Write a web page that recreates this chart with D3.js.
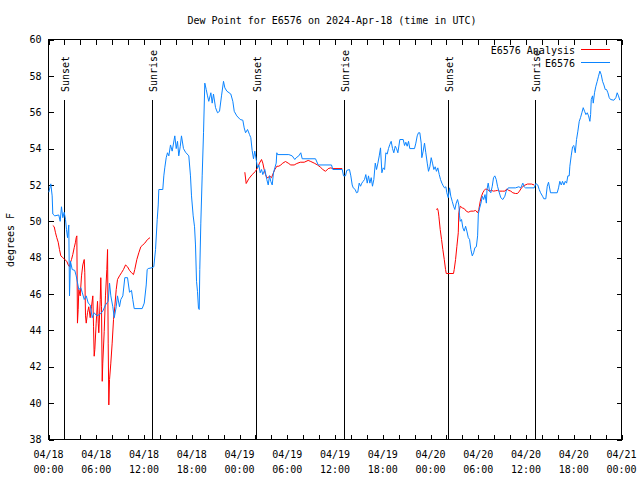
<!DOCTYPE html>
<html>
<head>
<meta charset="utf-8">
<script src="https://cdnjs.cloudflare.com/ajax/libs/d3/7.8.5/d3.min.js"></script>
<style>
  body { margin: 0; background: #fff; }
  svg { display: block; }
  text { font-family: "DejaVu Sans Mono", "Liberation Mono", monospace; font-size: 10px; fill: #000; }
</style>
</head>
<body>
<svg></svg>
<script>
// hours after 2024-04-18 00:00 UTC
const stationHours = [0.04,0.29,0.46,0.54,0.79,1.29,1.47,1.63,1.80,1.97,2.14,2.26,2.39,2.55,2.64,2.76,2.98,3.30,3.48,3.81,4.06,4.23,4.49,4.74,4.99,5.24,5.49,5.74,6.07,6.50,6.82,7.16,7.50,7.67,7.83,8.08,8.26,8.51,8.67,8.92,9.09,9.34,9.59,9.93,10.18,10.43,10.59,10.77,11.77,12.03,12.28,12.40,12.53,13.03,13.23,13.45,13.66,13.79,13.86,14.36,14.49,14.61,14.79,14.95,15.12,15.33,15.54,15.87,16.05,16.21,16.37,16.55,16.71,16.96,17.22,17.63,17.84,17.97,18.18,18.35,18.47,18.60,18.72,18.85,18.94,19.01,19.14,19.31,19.48,19.64,19.82,19.98,20.14,20.40,20.57,20.73,20.99,21.24,21.49,21.74,21.99,22.16,22.41,22.91,23.16,23.34,23.66,24.09,24.42,24.59,24.76,25.01,25.26,25.42,25.59,25.76,25.92,26.10,26.26,26.43,26.60,26.77,26.93,27.18,27.43,27.61,27.77,27.93,28.11,28.27,28.44,28.61,28.69,28.78,30.20,30.62,30.95,31.13,31.45,31.70,31.88,33.55,33.89,35.56,35.73,36.91,37.07,37.32,37.48,37.82,37.99,38.16,38.29,38.54,38.70,38.86,39.04,39.21,39.37,39.54,39.71,39.87,40.05,40.21,40.38,40.55,40.71,40.88,41.06,41.22,41.39,41.56,41.72,41.89,42.06,42.23,42.39,42.56,42.72,42.89,43.06,43.23,43.39,43.57,43.73,43.90,44.15,44.57,44.74,44.90,45.07,45.24,45.40,45.99,46.16,46.33,46.49,46.66,46.83,46.91,47.08,47.25,47.41,47.59,47.75,47.92,48.09,48.25,48.42,48.59,48.75,48.92,49.10,49.26,49.43,49.60,49.76,49.93,50.05,50.23,50.39,50.55,50.73,50.90,51.06,51.23,51.40,51.56,51.65,51.74,51.90,52.07,52.24,52.41,52.57,52.75,52.91,53.07,53.25,53.42,53.58,53.76,53.92,54.01,54.18,54.34,54.52,54.68,54.85,55.02,55.10,55.25,55.42,55.58,55.76,55.92,56.08,56.26,56.42,56.59,56.83,57.09,57.34,57.51,57.77,58.68,59.10,59.35,59.60,59.77,59.94,61.03,61.23,61.48,61.66,61.83,62.08,62.24,62.49,62.67,62.83,63.08,63.92,64.09,64.25,64.43,64.59,64.76,64.93,65.10,65.26,65.43,65.51,65.68,65.85,66.01,66.19,66.35,66.52,66.69,66.85,67.02,67.19,67.36,67.53,67.70,67.86,68.03,68.12,68.20,68.36,68.45,68.61,68.78,68.95,69.11,69.28,69.45,69.62,69.79,69.96,70.12,70.29,70.46,70.63,71.04,71.29,71.46,71.62,71.79];
const stationDew = [51.6,52.06,51.4,50.4,50.3,50.35,50.0,50.8,50.2,50.5,50.1,49.55,49.1,49.8,45.9,47.8,47.35,47.3,47.0,46.25,46.35,46.1,45.7,45.9,45.5,45.4,44.7,44.97,44.8,44.9,45.06,45.4,45.6,46.6,45.9,45.3,44.7,45.3,45.9,45.3,45.7,45.9,46.9,46.9,46.1,46.2,45.7,45.2,45.2,45.5,46.5,47.35,47.4,47.45,47.5,48.45,50.1,50.9,51.75,51.75,52.5,52.94,53.5,53.77,53.6,54.2,53.86,54.7,54.0,54.4,53.6,54.1,54.7,54.0,53.8,53.6,52.5,51.4,50.3,49.7,48.7,46.7,46.15,45.2,45.15,47.35,49.9,52.5,54.87,57.6,57.25,56.9,56.6,57.07,56.5,57.0,56.25,55.97,56.05,56.9,57.7,57.34,57.16,57.0,56.6,56.05,55.8,55.6,55.56,55.14,54.87,55.05,54.77,54.6,53.9,53.44,53.86,53.4,52.94,53.1,52.67,52.85,52.57,52.85,52.3,52.0,52.5,52.2,52.0,52.67,52.94,53.2,53.77,53.67,53.67,53.6,53.4,53.5,53.6,53.77,53.44,53.44,53.1,53.1,52.85,52.85,52.5,52.5,52.8,52.85,52.5,52.0,51.84,51.75,51.57,51.6,52.1,51.93,52.1,52.2,52.3,52.57,52.1,52.5,52.1,52.4,51.93,52.3,53.2,52.85,53.2,53.6,54.04,52.67,52.94,52.85,53.77,53.7,54.0,54.23,54.4,54.0,53.77,54.13,54.0,53.77,54.5,54.5,54.17,54.35,54.13,54.4,54.0,54.0,54.3,54.7,54.87,54.87,54.3,53.5,53.86,54.3,53.77,53.2,52.75,53.0,53.5,53.2,52.85,53.0,52.75,52.94,52.57,52.3,52.1,51.95,51.84,51.9,51.57,51.3,51.84,51.38,51.1,50.83,50.65,51.0,51.2,50.9,50.3,50.0,50.1,49.64,49.46,49.73,49.46,49.1,49.0,48.45,48.1,48.27,48.55,48.6,49.2,50.4,50.74,51.0,51.38,51.2,51.47,51.0,51.75,52.1,51.66,51.57,51.93,52.4,52.5,52.3,51.93,51.66,51.3,51.2,51.38,51.66,51.84,51.84,51.9,51.84,52.1,51.9,51.84,51.84,52.08,52.0,51.75,51.57,51.38,51.24,51.24,51.93,52.15,51.57,51.57,51.84,52.2,52.0,52.2,52.0,52.2,52.1,52.5,52.5,53.03,53.6,54.1,54.17,53.77,54.5,54.96,55.5,55.7,55.97,56.25,56.05,55.87,55.97,55.8,55.5,55.87,56.7,56.9,56.5,57.07,57.43,57.7,57.98,58.26,58.07,57.7,57.5,57.25,57.25,57.07,56.8,56.7,56.66,56.8,57.07,56.9,56.66];

// analysis series, null marks a gap
const analysisHours = [0.54,0.72,0.88,1.04,1.22,1.38,1.55,1.80,2.05,2.30,2.48,2.64,2.73,2.89,3.05,3.23,3.39,3.48,3.56,3.64,3.73,3.81,3.98,4.15,4.31,4.49,4.56,4.65,4.74,4.90,5.06,5.24,5.40,5.57,5.66,5.74,5.82,5.99,6.16,6.25,6.32,6.50,6.57,6.66,6.75,6.82,7.00,7.16,7.33,7.42,7.50,7.58,7.67,7.83,8.00,8.17,8.33,8.51,8.67,8.92,9.17,9.42,9.68,9.93,10.18,10.43,10.68,10.84,11.10,11.35,11.60,11.85,12.10,12.44,12.75,
  18.0,
  24.67,24.84,25.17,25.59,26.01,26.26,26.51,26.77,26.93,27.10,27.27,27.43,27.61,27.77,28.02,28.27,28.44,28.69,28.94,29.19,29.44,29.78,30.12,30.44,30.87,31.20,31.63,32.13,32.63,32.96,33.39,33.80,34.14,34.47,34.81,35.15,35.47,35.73,36.91,
  42.0,
  48.72,48.88,48.97,49.05,49.22,49.39,49.55,49.73,49.89,49.98,50.89,50.98,51.15,51.31,51.49,51.56,51.74,51.99,52.24,52.49,52.75,53.07,53.42,53.67,53.92,54.07,54.25,54.41,54.57,54.75,54.92,55.17,55.42,55.67,55.92,56.17,56.42,56.67,57.01,57.34,57.59,57.84,58.09,58.34,58.68,58.93,59.18,59.43,59.77,60.18,60.69,61.03];
const analysisDew = [49.77,49.7,49.37,49.1,48.85,48.45,48.1,48.0,47.9,47.8,47.6,47.5,47.7,47.9,48.17,48.55,48.85,49.1,49.2,44.4,45.15,46.25,45.9,47.0,47.6,47.9,47.2,44.8,44.4,44.97,45.3,44.7,45.3,45.9,44.2,42.58,42.95,44.4,45.6,44.4,43.87,45.7,46.9,45.3,41.2,42.2,43.95,45.9,47.35,48.45,43.3,39.9,41.3,42.2,43.3,44.6,45.3,46.25,46.8,47.0,47.17,47.35,47.6,47.5,47.3,47.17,47.07,47.35,47.9,48.27,48.6,48.7,48.8,49.0,49.1,
  null,
  52.7,52.08,52.34,52.57,52.75,52.94,53.2,53.4,53.2,52.85,52.57,52.4,52.4,52.5,52.4,52.67,52.85,53.03,53.03,53.1,53.2,53.29,53.2,53.1,53.1,53.18,53.25,53.25,53.35,53.29,53.2,53.1,52.99,52.85,52.75,52.9,52.94,52.9,52.9,
  null,
  50.65,50.7,50.56,50.28,49.55,49.0,48.45,47.9,47.35,47.13,47.13,47.35,47.9,48.6,49.37,50.47,50.83,50.74,50.7,50.56,50.5,50.56,50.56,50.6,50.47,50.65,51.1,51.38,51.57,51.7,51.78,51.75,51.66,51.7,51.66,51.68,51.7,51.66,51.66,51.66,51.78,51.7,51.66,51.57,51.53,51.53,51.66,51.84,51.97,52.05,52.05,52.0];

const sunHours = [2.05, 13.12, 26.18, 37.2, 50.28, 61.2];
const sunLabels = ["Sunset", "Sunrise", "Sunset", "Sunrise", "Sunset", "Sunrise"];
const yTicks = [38, 40, 42, 44, 46, 48, 50, 52, 54, 56, 58, 60];
const seriesNames = ["E6576 Analysis", "E6576"];
const seriesColors = ["#ff0000", "#0a84ff"];

const width = 640;
const height = 480;
const margin = {top: 40, right: 19, bottom: 40, left: 48};
const graphWidth = width - margin.left - margin.right;
const graphHeight = height - margin.top - margin.bottom;

const t0 = Date.UTC(2024, 3, 18);
const toDate = h => new Date(t0 + h * 3600e3);

const svg = d3.select("svg")
  .attr("width", width)
  .attr("height", height);

const graph = svg.append("g")
  .attr("transform", `translate(${margin.left + 0.5}, ${margin.top - 0.5})`);

const xScale = d3.scaleUtc()
  .domain([toDate(0), toDate(72)])
  .range([0, graphWidth]);

const yScale = d3.scaleLinear()
  .domain([38, 60])
  .range([graphHeight, 0]);

// ticks every 2 hours on top and bottom, pointing inward
const xTicks = xScale.ticks(d3.utcHour.every(2));
const bottomAxis = graph.append("g")
  .attr("transform", `translate(0, ${graphHeight})`)
  .call(d3.axisBottom(xScale).tickValues(xTicks).tickSize(-5).tickFormat(""));
const topAxis = graph.append("g")
  .call(d3.axisTop(xScale).tickValues(xTicks).tickSize(-5).tickFormat(""));
const leftAxis = graph.append("g")
  .call(d3.axisLeft(yScale).tickValues(yTicks).tickSize(-5).tickPadding(7));
const rightAxis = graph.append("g")
  .attr("transform", `translate(${graphWidth}, 0)`)
  .call(d3.axisRight(yScale).tickValues(yTicks).tickSize(-5).tickFormat(""));

[bottomAxis, topAxis, leftAxis, rightAxis].forEach(a => {
  a.selectAll(".domain").remove();
  a.selectAll("line").attr("stroke", "#000").attr("shape-rendering", "crispEdges");
  a.selectAll("text").attr("font-family", null).attr("font-size", null).attr("fill", "#000");
});

graph.append("rect")
  .attr("width", graphWidth)
  .attr("height", graphHeight)
  .attr("fill", "none")
  .attr("stroke", "#000")
  .attr("shape-rendering", "crispEdges");

// date / time labels every 6 hours
const labelTicks = xScale.ticks(d3.utcHour.every(6));
const xLabels = graph.append("g").selectAll("text")
  .data(labelTicks)
  .enter().append("text")
    .attr("text-anchor", "middle")
    .attr("x", d => xScale(d));
xLabels.append("tspan")
  .attr("x", d => xScale(d))
  .attr("y", graphHeight + 18.5)
  .text(d => d3.utcFormat("%m/%d")(d));
xLabels.append("tspan")
  .attr("x", d => xScale(d))
  .attr("y", graphHeight + 33.5)
  .text(d => d3.utcFormat("%H:%M")(d));

// sunrise / sunset markers
const sun = graph.append("g").selectAll("g")
  .data(sunHours)
  .enter().append("g")
    .attr("transform", d => `translate(${Math.round(xScale(toDate(d)))}, 0)`);
sun.append("line")
  .attr("y1", 60)
  .attr("y2", graphHeight)
  .attr("stroke", "#000")
  .attr("shape-rendering", "crispEdges");
sun.append("text")
  .attr("transform", "translate(4.5, 52.5) rotate(-90)")
  .attr("text-anchor", "start")
  .text((d, i) => sunLabels[i]);

const line = d3.line()
  .defined(d => d[1] !== null)
  .x(d => xScale(toDate(d[0])))
  .y(d => yScale(d[1]));

const analysisData = analysisHours.map((h, i) => [h, analysisDew[i]]);
const stationData = stationHours.map((h, i) => [h, stationDew[i]]);

graph.append("path")
  .attr("d", line(analysisData))
  .attr("fill", "none")
  .attr("stroke", seriesColors[0])
  .attr("stroke-width", 1);

graph.append("path")
  .attr("d", line(stationData))
  .attr("fill", "none")
  .attr("stroke", seriesColors[1])
  .attr("stroke-width", 1);

// legend
const legend = svg.append("g").selectAll("g")
  .data(seriesNames)
  .enter().append("g")
    .attr("transform", (d, i) => `translate(575, ${49.5 + i * 13})`);
legend.append("text")
  .attr("text-anchor", "end")
  .attr("y", 4)
  .text(d => d);
legend.append("line")
  .attr("x1", 6)
  .attr("x2", 35)
  .attr("stroke", (d, i) => seriesColors[i])
  .attr("shape-rendering", "crispEdges");

svg.append("text")
  .attr("x", 332)
  .attr("y", 23.5)
  .attr("text-anchor", "middle")
  .text("Dew Point for E6576 on 2024-Apr-18 (time in UTC)");

svg.append("text")
  .attr("transform", "translate(14, 240) rotate(-90)")
  .attr("text-anchor", "middle")
  .text("degrees F");
</script>
</body>
</html>
